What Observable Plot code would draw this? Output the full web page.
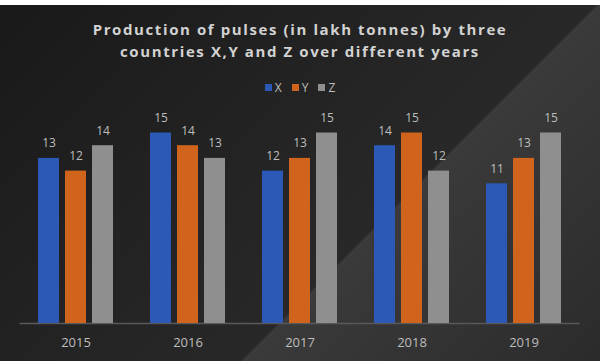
<!DOCTYPE html>
<html><head><meta charset="utf-8">
<script src="https://cdn.jsdelivr.net/npm/d3@7"></script>
<script src="https://cdn.jsdelivr.net/npm/@observablehq/plot@0.6"></script>
<style>
html,body{margin:0;padding:0;background:#fff;}
#chart{position:relative;width:600px;height:356px;margin-top:5px;overflow:hidden;
 background:linear-gradient(135deg,#191919 0%,#222222 35%,#282828 62.4%,#3a3a3a 62.6%,#333333 80%,#2b2b2b 100%);}
#title{position:absolute;left:0;top:13px;width:600px;text-align:center;color:#d2d2d2;
 font-family:"Open Sans",sans-serif;font-weight:700;font-size:15px;line-height:22px;letter-spacing:1.6px;}
#legend{position:absolute;left:0;top:75px;width:600px;display:flex;justify-content:center;align-items:center;
 font-family:"Open Sans",sans-serif;font-size:12px;color:#bdbdbd;height:14px;}
#legend .it{display:flex;align-items:center;margin:0 5px;}
#legend .sw{width:7px;height:7px;margin-right:3px;}
#plot{position:absolute;left:0;top:95px;}
</style></head>
<body>
<div id="chart">
 <div id="title">Production of pulses (in lakh tonnes) by three<br>countries X,Y and Z over different years</div>
 <div id="legend"></div>
 <div id="plot"></div>
</div>
<script>
const years = ["2015", "2016", "2017", "2018", "2019"];
const countries = ["X", "Y", "Z"];
const valuesX = [13, 15, 12, 14, 11];
const valuesY = [12, 14, 13, 15, 13];
const valuesZ = [14, 13, 15, 12, 15];
const colors = ["#2b59b5", "#d0641d", "#8f8f8f"];

const series = [valuesX, valuesY, valuesZ];
const data = [];
years.forEach((yr, i) => countries.forEach((c, j) => data.push({year: yr, country: c, value: series[j][i]})));

const legend = document.getElementById("legend");
countries.forEach((c, j) => {
  const it = document.createElement("div"); it.className = "it";
  const sw = document.createElement("div"); sw.className = "sw"; sw.style.background = colors[j];
  const t = document.createElement("span"); t.textContent = c;
  it.appendChild(sw); it.appendChild(t); legend.appendChild(it);
});

const chart = Plot.plot({
  width: 600, height: 261,
  marginTop: 32.5, marginBottom: 38, marginLeft: 18, marginRight: 18,
  style: {background: "transparent", color: "#bdbdbd", fontFamily: "Open Sans, sans-serif", fontSize: "13px"},
  fx: {domain: years, paddingInner: 0.31, paddingOuter: 0.155, label: null, tickSize: 0, tickPadding: 14, axis: "bottom"},
  x: {domain: countries, paddingInner: 0.214, paddingOuter: 0, axis: null},
  y: {domain: [0, 15], axis: null},
  color: {domain: countries, range: colors},
  marks: [
    Plot.ruleY([0], {stroke: "#595959", strokeWidth: 1.5, insetLeft: -17.6, insetRight: -17.6}),
    Plot.barY(data, {fx: "year", x: "country", y: "value", fill: "country"}),
    Plot.text(data, {fx: "year", x: "country", y: "value", text: d => String(d.value), dy: -15, fill: "#bdbdbd", fontSize: 12})
  ]
});
document.getElementById("plot").appendChild(chart);
</script>
</body></html>
